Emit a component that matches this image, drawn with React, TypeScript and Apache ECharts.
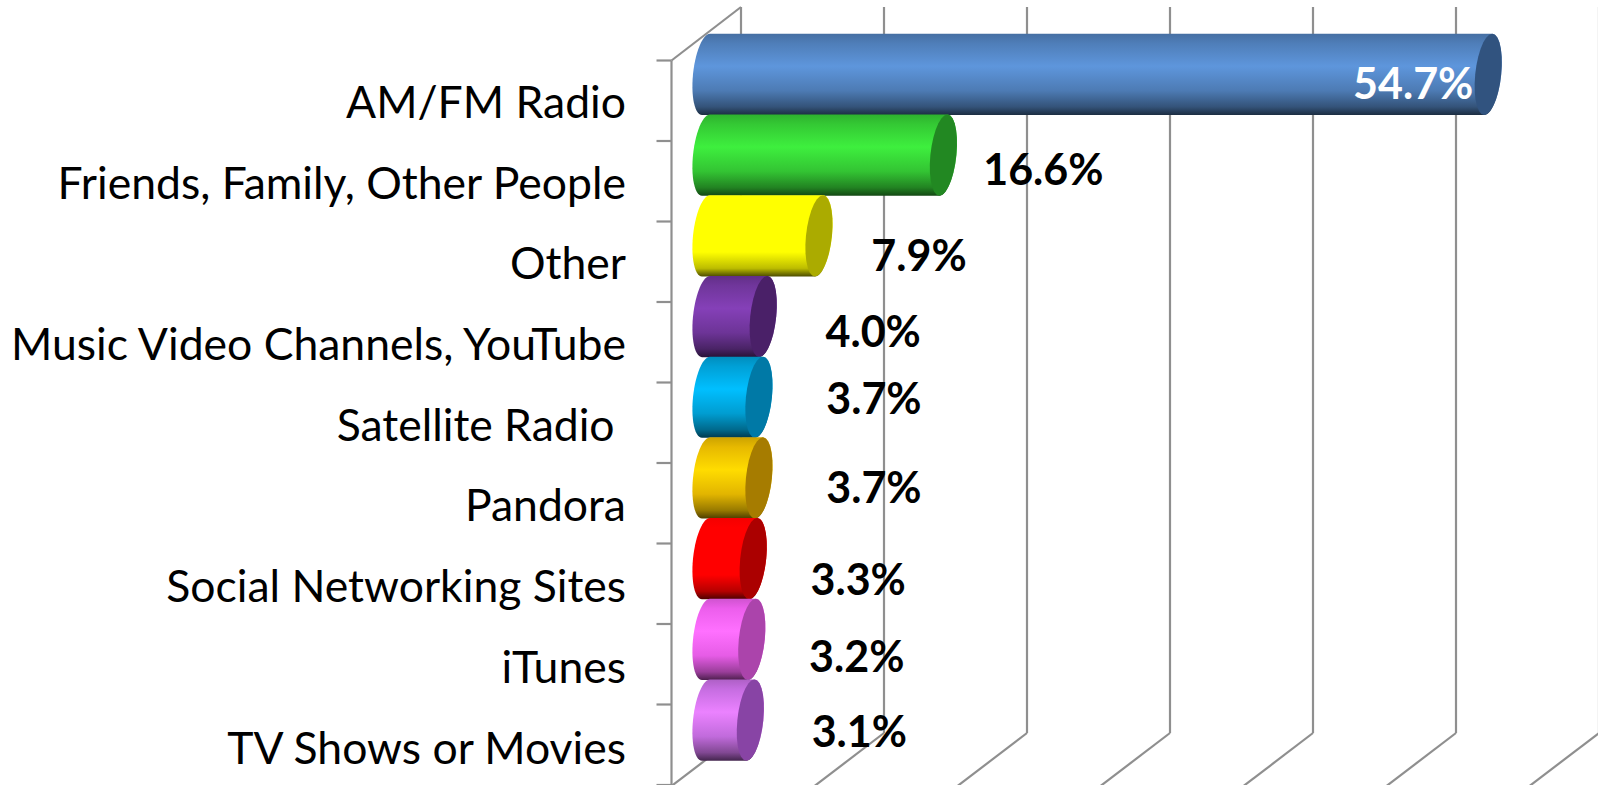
import React, { useEffect, useRef } from "react";
import * as echarts from "echarts";

const categories = [
  "AM/FM Radio",
  "Friends, Family, Other People",
  "Other",
  "Music Video Channels, YouTube",
  "Satellite Radio ",
  "Pandora",
  "Social Networking Sites",
  "iTunes",
  "TV Shows or Movies",
];
const values = [54.7, 16.6, 7.9, 4.0, 3.7, 3.7, 3.3, 3.2, 3.1];
const axisTicks = [0, 10, 20, 30, 40, 50, 60];
const bodyColors = ["#5E96DC", "#3EEF3E", "#FFFF00", "#8540B8", "#00BFFF", "#FFCC00", "#FF0000", "#FF66FF", "#E07CFF"];
const capColors = ["#31537F", "#228822", "#ABAB00", "#4A2068", "#0079A6", "#A67C00", "#AB0000", "#AB44AB", "#8844A5"];
const bodyGain = [1, 1, 1.35, 1, 1, 1.08, 1.3, 1.1, 1.05];
const labelColors = ["#FFFFFF", "#000000", "#000000", "#000000", "#000000", "#000000", "#000000", "#000000", "#000000"];
// label placement relative to the end of each bar
const labelDx = [-75, 100, 100, 110, 115, 115, 105, 105, 109];
const labelDy = [8, 13, 19, 13.5, 0, 9, 20, 16, 10];

const FONT = "Lato, Carlito, Calibri, sans-serif";
const WALL = "#8F8F8F";
const DEPTH_X = 34.5;
const DEPTH_Y = 26.5;
const CAP_RX = 13;
const CAP_SKEW = 4;

function shade(hex: string, k: number) {
  const n = parseInt(hex.slice(1), 16);
  const c = [(n >> 16) & 255, (n >> 8) & 255, n & 255].map((v) => Math.min(255, Math.round(v * k)));
  return `rgb(${c[0]},${c[1]},${c[2]})`;
}

function arc(cx: number, cy: number, h: number, from: number, to: number) {
  const pts: number[][] = [];
  const steps = 28;
  for (let i = 0; i <= steps; i++) {
    const t = from + ((to - from) * i) / steps;
    pts.push([cx + CAP_RX * Math.cos(t) + CAP_SKEW * Math.sin(t), cy - h * Math.sin(t)]);
  }
  return pts;
}

export default function App() {
  const ref = useRef<HTMLDivElement>(null);
  useEffect(() => {
    document.body.style.margin = "0";
    const chart = echarts.init(ref.current!, null, { renderer: "svg" });
    const renderWall = (params: any, api: any) => {
      const v = api.value(0);
      const g = params.coordSys;
      const x = api.coord([v, 0])[0];
      const top = g.y - DEPTH_Y - 0.5;
      const bottom = g.y + g.height - DEPTH_Y - 1;
      const line = (x1: number, y1: number, x2: number, y2: number) => ({
        type: "line",
        shape: { x1, y1, x2, y2 },
        style: { stroke: WALL, lineWidth: 2.2, fill: null },
      });
      const children: any[] = [
        line(x + DEPTH_X + 0.5, top, x + DEPTH_X + 0.5, bottom),
        line(x + DEPTH_X + 0.5, bottom, x - DEPTH_X, bottom + 2 * DEPTH_Y),
      ];
      if (params.dataIndex === 0) {
        const fy = g.y + DEPTH_Y;
        children.push(line(x - DEPTH_X, fy, x - DEPTH_X, 785));
        children.push(line(x - DEPTH_X, fy, x + DEPTH_X + 0.5, top));
        const step = (785 - fy) / categories.length;
        for (let i = 0; i <= categories.length; i++) {
          children.push(line(x - DEPTH_X - 15, fy + i * step, x - DEPTH_X, fy + i * step));
        }
      }
      return { type: "group", children };
    };
    const renderBar = (params: any, api: any) => {
      const i = params.dataIndex;
      const v = api.value(0);
      const end = api.coord([v, api.value(1)]);
      const start = api.coord([0, api.value(1)]);
      const h = 40.6;
      const cy = end[1];
      const body = [...arc(end[0], cy, h, Math.PI / 2, -Math.PI / 2), ...arc(start[0], cy, h, -Math.PI / 2, -(3 * Math.PI) / 2)];
      const base = bodyColors[i];
      const g = bodyGain[i];
      const fill = new echarts.graphic.LinearGradient(0, 0, 0, 1, [
        { offset: 0, color: shade(base, 0.74 * g) },
        { offset: 0.12, color: shade(base, 0.84 * g) },
        { offset: 0.4, color: shade(base, g) },
        { offset: 0.7, color: shade(base, 0.82 * g) },
        { offset: 0.9, color: shade(base, 0.55 * g) },
        { offset: 1, color: shade(base, 0.3) },
      ]);
      return {
        type: "group",
        children: [
          { type: "polygon", shape: { points: body }, style: { fill } },
          {
            type: "polygon",
            shape: { points: arc(end[0], cy, h, 0, Math.PI * 2) },
            style: { fill: capColors[i] },
          },
          {
            type: "text",
            z2: 10,
            style: {
              text: `${v.toFixed(1)}%`,
              x: end[0] + labelDx[i],
              y: cy + labelDy[i],
              align: "center",
              verticalAlign: "middle",
              fill: labelColors[i],
              font: `bold 43px ${FONT}`,
            },
          },
        ],
      };
    };
    chart.setOption({
      animation: false,
      backgroundColor: "#FFFFFF",
      grid: { left: 706, top: 34, width: 858, height: 726.5 },
      xAxis: { type: "value", min: 0, max: 60, interval: 10, show: false },
      yAxis: {
        type: "category",
        data: categories,
        inverse: true,
        axisLine: { show: false },
        axisTick: { show: false },
        splitLine: { show: false },
        axisLabel: {
          margin: 80,
          color: "#000000",
          fontFamily: FONT,
          fontSize: 44.5,
          verticalAlign: "top",
          lineHeight: 52,
        },
      },
      series: [
        {
          type: "custom",
          coordinateSystem: "cartesian2d",
          renderItem: renderWall,
          encode: { x: 0 },
          data: axisTicks.map((t) => [t]),
          silent: true,
          clip: false,
          z: 1,
        },
        {
          type: "custom",
          coordinateSystem: "cartesian2d",
          renderItem: renderBar,
          encode: { x: 0, y: 1 },
          data: values.map((v, i) => [v, i]),
          silent: true,
          clip: false,
          z: 2,
        },
      ],
    });
    return () => chart.dispose();
  }, []);
  return <div ref={ref} style={{ position: "absolute", left: 0, top: 0, width: 1598, height: 785 }} />;
}
